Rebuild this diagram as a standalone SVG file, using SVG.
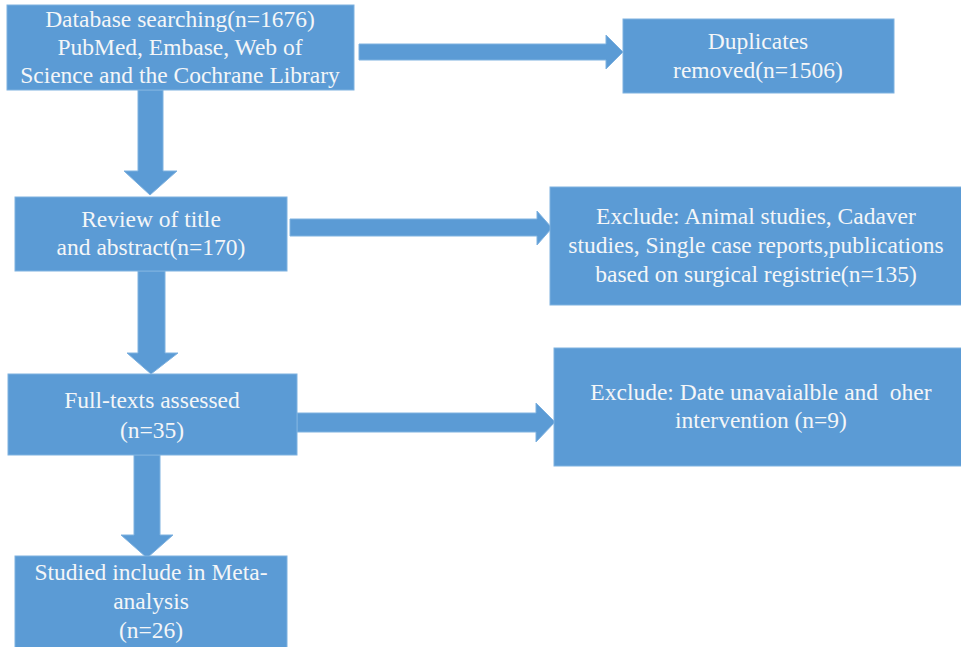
<svg xmlns="http://www.w3.org/2000/svg" width="961" height="647" viewBox="0 0 961 647">
<style>
.box{fill:#5b9bd5;stroke:#7fb2e0;stroke-width:1}
.arr{fill:#5b9bd5;stroke:#7fb2e0;stroke-width:1}
.t{font-family:'Liberation Serif','DejaVu Serif',serif;font-size:23.5px;fill:#f4f6f8;text-anchor:middle}
</style>
<rect width="961" height="647" fill="#ffffff"/>
<g id="connectors">
<polygon class="arr" points="359,44 606,44 606,35 623,52 606,69 606,60 359,60"/>
<polygon class="arr" points="138,90 163,90 163,171 177,171 150,195 124,171 138,171"/>
<polygon class="arr" points="290,219 537,219 537,211 552,228 537,245 537,236 290,236"/>
<polygon class="arr" points="138,271 165,271 165,353 178,353 151,374 127,353 138,353"/>
<polygon class="arr" points="297,413 536,413 536,403 555,422 536,442 536,432 297,432"/>
<polygon class="arr" points="134,455 160,455 160,535 173,535 147,558 121,535 134,535"/>
</g>
<g class="t" font-family="Liberation Serif, DejaVu Serif, serif">
<g id="n1">
<rect class="box" x="7" y="5" width="347" height="85"/>
<text x="180" y="27">Database searching(n=1676)</text>
<text x="180" y="55">PubMed, Embase, Web of</text>
<text x="180" y="83">Science and the Cochrane Library</text>
</g>
<g id="n2">
<rect class="box" x="623" y="19" width="271" height="74"/>
<text x="758" y="49">Duplicates</text>
<text x="758" y="78">removed(n=1506)</text>
</g>
<g id="n3">
<rect class="box" x="15" y="197" width="272" height="74"/>
<text x="151" y="227">Review of title</text>
<text x="151" y="255">and abstract(n=170)</text>
</g>
<g id="n4">
<rect class="box" x="550" y="187" width="412" height="118"/>
<text x="756" y="224">Exclude: Animal studies, Cadaver</text>
<text x="756" y="253">studies, Single case reports,publications</text>
<text x="756" y="282">based on surgical registrie(n=135)</text>
</g>
<g id="n5">
<rect class="box" x="8" y="374" width="289" height="81"/>
<text x="152" y="408">Full-texts assessed</text>
<text x="152" y="438">(n=35)</text>
</g>
<g id="n6">
<rect class="box" x="554" y="348" width="408" height="118"/>
<text x="761" y="400" xml:space="preserve">Exclude: Date unavaialble and  oher</text>
<text x="761" y="428">intervention (n=9)</text>
</g>
<g id="n7">
<rect class="box" x="15" y="556" width="272" height="92"/>
<text x="151" y="580">Studied include in Meta-</text>
<text x="151" y="609">analysis</text>
<text x="151" y="638">(n=26)</text>
</g>
</g>
</svg>
